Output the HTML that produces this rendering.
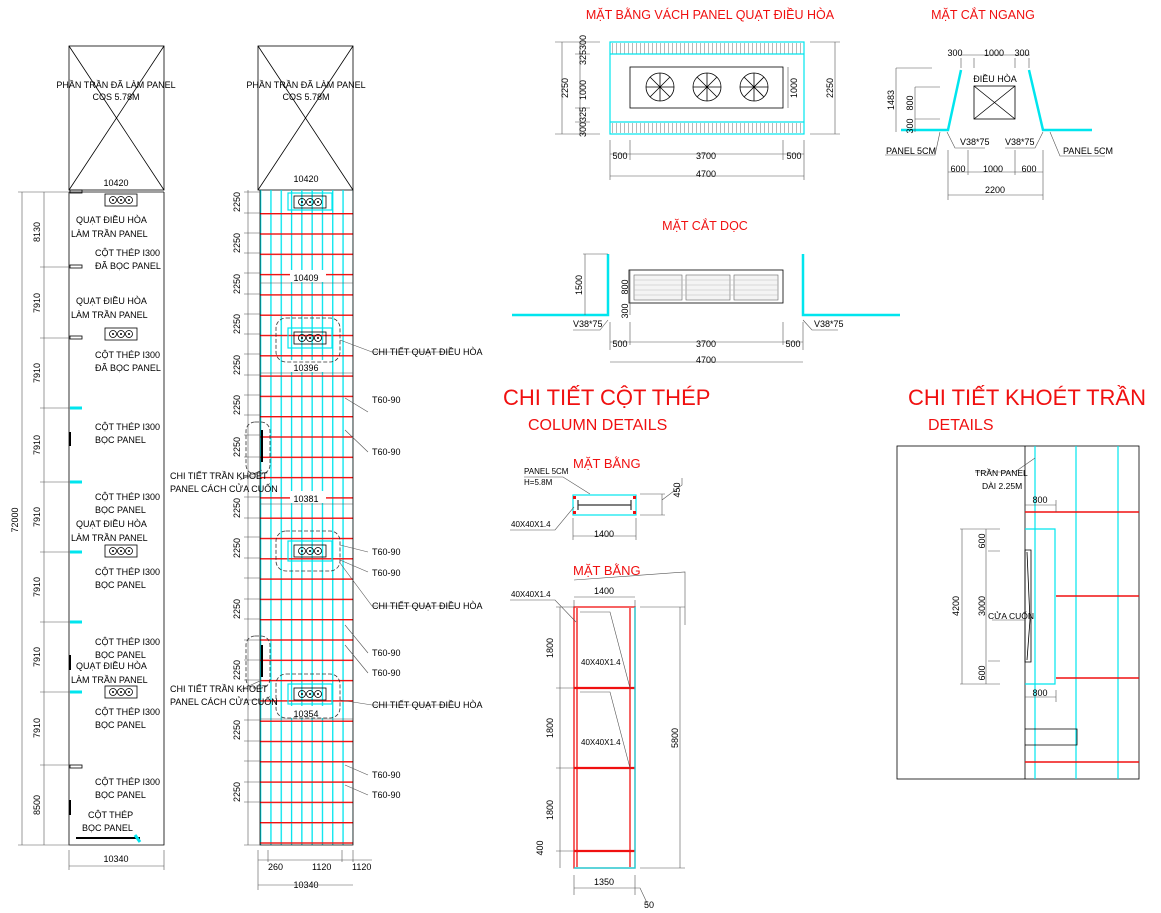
<!DOCTYPE html>
<html><head><meta charset="utf-8"><style>
html,body{margin:0;padding:0;background:#fff;}
svg{display:block;font-family:"Liberation Sans","Noto Sans CJK SC",sans-serif;}
.t{font-size:9px;fill:#000;}
.r{fill:#f01010;}
.k{stroke:#000;stroke-width:.8;fill:none;}
.c{stroke:#00e5ee;stroke-width:1.2;fill:none;}
.rd{stroke:#f01010;stroke-width:1.3;fill:none;}
.g{stroke:#555;stroke-width:.6;fill:none;}
</style></head><body>
<svg width="1161" height="913" viewBox="0 0 1161 913" xmlns="http://www.w3.org/2000/svg">
<defs>
<pattern id="reds" x="260" y="213" width="100" height="20.3" patternUnits="userSpaceOnUse"><rect x="0" y="0" width="100" height="1.4" fill="#f01010"/></pattern>
<pattern id="cy" x="260" y="190" width="10.3" height="100" patternUnits="userSpaceOnUse"><rect x="0" y="0" width="1.3" height="100" fill="#00e5ee"/></pattern>
<pattern id="hatch" x="0" y="0" width="4" height="10" patternUnits="userSpaceOnUse"><rect x="0" y="0" width=".6" height="10" fill="#888"/></pattern>
<g id="fan"><rect x="0" y="0" width="32" height="12" class="k"/><circle cx="8" cy="6" r="3.5" class="k"/><circle cx="16" cy="6" r="3.5" class="k"/><circle cx="24" cy="6" r="3.5" class="k"/><circle cx="8" cy="6" r="1" fill="#000"/><circle cx="16" cy="6" r="1" fill="#000"/><circle cx="24" cy="6" r="1" fill="#000"/></g>
<g id="wheel"><circle r="14" class="k"/><path d="M-14 0H14M0-14V14M-10-10L10 10M-10 10L10-10" class="k"/></g>
</defs>

<!-- ===== COLUMN 1 ===== -->
<rect x="69" y="46" width="95" height="144" class="k"/>
<path d="M69 46L164 190M164 46L69 190" class="k"/>
<text x="116" y="88" class="t" text-anchor="middle">PHẦN TRẦN ĐÃ LÀM PANEL</text>
<text x="116" y="100" class="t" text-anchor="middle">COS 5.78M</text>
<text x="116" y="186" class="t" text-anchor="middle">10420</text>
<path d="M69 192H164M69 192V845H164V192" class="k"/>
<path d="M22 192V845M44 192V845" class="g"/>
<g class="g"><path d="M18 192H70M40 267H70M40 338H70M40 408H70M40 482H70M40 552H70M40 622H70M40 692H70M40 765H70M18 845H70"/></g>
<g class="t">
<text transform="translate(40,232) rotate(-90)" text-anchor="middle">8130</text>
<text transform="translate(40,303) rotate(-90)" text-anchor="middle">7910</text>
<text transform="translate(40,373) rotate(-90)" text-anchor="middle">7910</text>
<text transform="translate(40,445) rotate(-90)" text-anchor="middle">7910</text>
<text transform="translate(40,517) rotate(-90)" text-anchor="middle">7910</text>
<text transform="translate(40,587) rotate(-90)" text-anchor="middle">7910</text>
<text transform="translate(40,657) rotate(-90)" text-anchor="middle">7910</text>
<text transform="translate(40,728) rotate(-90)" text-anchor="middle">7910</text>
<text transform="translate(40,805) rotate(-90)" text-anchor="middle">8500</text>
<text transform="translate(18,520) rotate(-90)" text-anchor="middle">72000</text>
</g>
<use href="#fan" x="105" y="194"/><use href="#fan" x="105" y="328"/><use href="#fan" x="105" y="545"/><use href="#fan" x="105" y="686"/>
<g class="k"><rect x="70" y="190" width="12" height="3"/><rect x="70" y="265" width="12" height="3"/><rect x="70" y="336" width="12" height="3"/><rect x="70" y="765" width="12" height="3"/></g>
<g stroke="#00e5ee" stroke-width="3"><path d="M70 408H82M70 482H82M70 552H82M70 622H82M70 692H82"/></g>
<path d="M70 432V446M70 655V670M70 800V815" stroke="#000" stroke-width="2"/>
<g class="t">
<text x="76" y="223">QUẠT ĐIỀU HÒA</text><text x="71" y="237">LÀM TRẦN PANEL</text>
<text x="95" y="256">CỘT THÉP I300</text><text x="95" y="269">ĐÃ BỌC PANEL</text>
<text x="76" y="304">QUẠT ĐIỀU HÒA</text><text x="71" y="318">LÀM TRẦN PANEL</text>
<text x="95" y="358">CỘT THÉP I300</text><text x="95" y="371">ĐÃ BỌC PANEL</text>
<text x="95" y="430">CỘT THÉP I300</text><text x="95" y="443">BỌC PANEL</text>
<text x="95" y="500">CỘT THÉP I300</text><text x="95" y="513">BỌC PANEL</text>
<text x="76" y="527">QUẠT ĐIỀU HÒA</text><text x="71" y="541">LÀM TRẦN PANEL</text>
<text x="95" y="575">CỘT THÉP I300</text><text x="95" y="588">BỌC PANEL</text>
<text x="95" y="645">CỘT THÉP I300</text><text x="95" y="658">BỌC PANEL</text>
<text x="76" y="669">QUẠT ĐIỀU HÒA</text><text x="71" y="683">LÀM TRẦN PANEL</text>
<text x="95" y="715">CỘT THÉP I300</text><text x="95" y="728">BỌC PANEL</text>
<text x="95" y="785">CỘT THÉP I300</text><text x="95" y="798">BỌC PANEL</text>
<text x="88" y="818">CỘT THÉP</text><text x="82" y="831">BỌC PANEL</text>
<text x="116" y="862" text-anchor="middle">10340</text>
</g>
<path d="M69 850V870M164 850V870M69 866H164" class="g"/>
<path d="M76 838H140" stroke="#000" stroke-width="2"/><path d="M135 835L140 842" stroke="#00e5ee" stroke-width="3"/>

<!-- ===== COLUMN 2 ===== -->
<rect x="258" y="46" width="95" height="144" class="k"/>
<path d="M258 46L353 190M353 46L258 190" class="k"/>
<text x="306" y="88" class="t" text-anchor="middle">PHẦN TRẦN ĐÃ LÀM PANEL</text>
<text x="306" y="100" class="t" text-anchor="middle">COS 5.78M</text>
<text x="306" y="182" class="t" text-anchor="middle">10420</text>
<rect x="260" y="190" width="93" height="655" fill="url(#cy)"/>
<rect x="260" y="213" width="93" height="632" fill="url(#reds)"/>
<path d="M260 190V845H353V190" class="k"/>
<path d="M248 190V845" class="g"/>
<g class="g"><path d="M244 192H260M244 213H260M244 233H260M244 253H260M244 273H260M244 294H260M244 314H260M244 334H260M244 354H260M244 375H260M244 395H260M244 415H260M244 435H260M244 457H260M244 477H260M244 497H260M244 518H260M244 537H260M244 558H260M244 578H260M244 599H260M244 619H260M244 640H260M244 660H260M244 680H260M244 700H260M244 720H260M244 741H260M244 761H260M244 782H260M244 802H260M244 845H260"/></g>
<g class="t">
<text transform="translate(240,202) rotate(-90)" text-anchor="middle">2250</text>
<text transform="translate(240,243) rotate(-90)" text-anchor="middle">2250</text>
<text transform="translate(240,284) rotate(-90)" text-anchor="middle">2250</text>
<text transform="translate(240,324) rotate(-90)" text-anchor="middle">2250</text>
<text transform="translate(240,365) rotate(-90)" text-anchor="middle">2250</text>
<text transform="translate(240,405) rotate(-90)" text-anchor="middle">2250</text>
<text transform="translate(240,447) rotate(-90)" text-anchor="middle">2250</text>
<text transform="translate(240,508) rotate(-90)" text-anchor="middle">2250</text>
<text transform="translate(240,548) rotate(-90)" text-anchor="middle">2250</text>
<text transform="translate(240,609) rotate(-90)" text-anchor="middle">2250</text>
<text transform="translate(240,670) rotate(-90)" text-anchor="middle">2250</text>
<text transform="translate(240,730) rotate(-90)" text-anchor="middle">2250</text>
<text transform="translate(240,792) rotate(-90)" text-anchor="middle">2250</text>
</g>
<g fill="#fff"><rect x="290" y="270" width="36" height="12"/><rect x="290" y="360" width="36" height="12"/><rect x="290" y="491" width="36" height="12"/><rect x="290" y="706" width="36" height="12"/></g>
<g class="t" text-anchor="middle"><text x="306" y="281">10409</text><text x="306" y="371">10396</text><text x="306" y="502">10381</text><text x="306" y="717">10354</text></g>
<path d="M260 283H353M260 373H353M260 504H353M260 719H353" class="g"/>
<g><rect x="288" y="193" width="44" height="17" fill="#fff" class="c"/><use href="#fan" x="294" y="196"/>
<rect x="288" y="328" width="44" height="20" fill="#fff" class="c"/><use href="#fan" x="294" y="332"/>
<rect x="288" y="541" width="44" height="20" fill="#fff" class="c"/><use href="#fan" x="294" y="545"/>
<rect x="288" y="684" width="44" height="20" fill="#fff" class="c"/><use href="#fan" x="294" y="688"/></g>
<g stroke="#333" stroke-width=".8" stroke-dasharray="4,2" fill="none">
<rect x="276" y="318" width="64" height="44" rx="10"/><rect x="276" y="531" width="64" height="40" rx="10"/><rect x="276" y="674" width="64" height="44" rx="10"/>
<rect x="246" y="422" width="24" height="52" rx="9"/><rect x="246" y="636" width="24" height="52" rx="9"/></g>
<path d="M262 430V462M262 645V677" stroke="#000" stroke-width="2"/>
<g class="g"><path d="M340 340L372 352H450M340 545L368 552M340 560L368 572M340 563L372 606H455M340 700L372 705H455M345 398L368 412M345 430L368 452M345 625L368 653M345 645L368 673M345 765L368 775M345 785L368 795M262 470L240 480M262 680L240 690"/></g>
<g class="t">
<text x="372" y="355">CHI TIẾT QUẠT ĐIỀU HÒA</text>
<text x="372" y="403">T60-90</text><text x="372" y="455">T60-90</text>
<text x="372" y="555">T60-90</text><text x="372" y="576">T60-90</text>
<text x="372" y="609">CHI TIẾT QUẠT ĐIỀU HÒA</text>
<text x="372" y="656">T60-90</text><text x="372" y="676">T60-90</text>
<text x="372" y="708">CHI TIẾT QUẠT ĐIỀU HÒA</text>
<text x="372" y="778">T60-90</text><text x="372" y="798">T60-90</text>
<text x="170" y="479">CHI TIẾT TRẦN KHOÉT</text><text x="170" y="492">PANEL CÁCH CỬA CUỐN</text>
<text x="170" y="692">CHI TIẾT TRẦN KHOÉT</text><text x="170" y="705">PANEL CÁCH CỬA CUỐN</text>
<text x="268" y="870">260</text><text x="312" y="870">1120</text><text x="352" y="870">1120</text>
<text x="306" y="888" text-anchor="middle">10340</text>
</g>
<path d="M258 860H372M258 850V890M268 850V862M342 850V862M353 850V862M258 885H353" class="g"/>

<!-- ===== MẶT BẰNG VÁCH PANEL ===== -->
<text x="710" y="19" class="r" font-size="12.5" text-anchor="middle">MẶT BẰNG VÁCH PANEL QUẠT ĐIỀU HÒA</text>
<rect x="610" y="42" width="194" height="92" class="c"/>
<rect x="611" y="43" width="192" height="11" fill="url(#hatch)"/>
<rect x="611" y="123" width="192" height="10" fill="url(#hatch)"/>
<path d="M610 54H804M610 122H804" class="c"/>
<rect x="630" y="67" width="153" height="41" class="k"/>
<use href="#wheel" x="660" y="87"/><use href="#wheel" x="707" y="87"/><use href="#wheel" x="754" y="87"/>
<g class="g"><path d="M555 42H600M575 54H590M575 108H590M575 122H590M555 134H600M562 42V134M580 42V134M788 67V108M810 42H840M810 134H840M835 42V134M610 140V180M630 140V160M783 140V160M804 140V180M610 154H804M610 176H804"/></g>
<g class="t">
<text transform="translate(568,88) rotate(-90)" text-anchor="middle">2250</text>
<text transform="translate(586,50) rotate(-90)" text-anchor="middle">325300</text>
<text transform="translate(586,90) rotate(-90)" text-anchor="middle">1000</text>
<text transform="translate(586,122) rotate(-90)" text-anchor="middle">300325</text>
<text transform="translate(797,88) rotate(-90)" text-anchor="middle">1000</text>
<text transform="translate(833,88) rotate(-90)" text-anchor="middle">2250</text>
<text x="620" y="159" text-anchor="middle">500</text><text x="706" y="159" text-anchor="middle">3700</text><text x="794" y="159" text-anchor="middle">500</text>
<text x="706" y="177" text-anchor="middle">4700</text>
</g>

<!-- ===== MẶT CẮT NGANG ===== -->
<text x="983" y="19" class="r" font-size="12.5" text-anchor="middle">MẶT CẮT NGANG</text>
<path d="M901 130H948L961 70M1029 70L1043 130H1092" stroke="#00e5ee" stroke-width="2.5" fill="none"/>
<rect x="974" y="86" width="41" height="33" class="k"/><path d="M974 86L1015 119M1015 86L974 119" class="k"/>
<g class="g"><path d="M896 68H932M896 68V132M915 87H940M915 87V132M915 119H940M960 55H1030M961 58V68M974 58V68M1015 58V68M1029 58V68M948 150V200M968 150V175M1015 150V175M1043 150V200M948 172H1043M948 195H1043M940 132L935 155H885M947 132L955 148H985M1043 132L1035 148H1005M1050 132L1060 156H1105"/></g>
<g class="t">
<text x="955" y="56" text-anchor="middle">300</text><text x="994" y="56" text-anchor="middle">1000</text><text x="1022" y="56" text-anchor="middle">300</text>
<text x="995" y="82" text-anchor="middle">ĐIỀU HÒA</text>
<text transform="translate(894,100) rotate(-90)" text-anchor="middle">1483</text>
<text transform="translate(913,103) rotate(-90)" text-anchor="middle">800</text>
<text transform="translate(913,126) rotate(-90)" text-anchor="middle">300</text>
<text x="960" y="145">V38*75</text><text x="1005" y="145">V38*75</text>
<text x="886" y="154">PANEL 5CM</text><text x="1063" y="154">PANEL 5CM</text>
<text x="958" y="172" text-anchor="middle">600</text><text x="993" y="172" text-anchor="middle">1000</text><text x="1029" y="172" text-anchor="middle">600</text>
<text x="995" y="193" text-anchor="middle">2200</text>
</g>

<!-- ===== MẶT CẮT DỌC ===== -->
<text x="705" y="230" class="r" font-size="12.5" text-anchor="middle">MẶT CẮT DỌC</text>
<path d="M512 315H608V254M803 254V315H900" stroke="#00e5ee" stroke-width="2.5" fill="none"/>
<rect x="629" y="270" width="154" height="33" class="k"/>
<g fill="#f4f4f4" stroke="#666" stroke-width=".6"><rect x="634" y="275" width="48" height="25"/><rect x="686" y="275" width="44" height="25"/><rect x="734" y="275" width="44" height="25"/></g>
<g stroke="#bbb" stroke-width=".5"><path d="M634 280H778M634 285H778M634 290H778M634 295H778"/></g>
<g class="g"><path d="M583 254H608M585 254V315M630 270V315M608 320L600 330H573M803 320L812 330H838M610 322V350M630 322V345M783 322V345M803 322V350M610 342H803M610 362H803"/></g>
<g class="t">
<text transform="translate(582,285) rotate(-90)" text-anchor="middle">1500</text>
<text transform="translate(628,287) rotate(-90)" text-anchor="middle">800</text>
<text transform="translate(628,311) rotate(-90)" text-anchor="middle">300</text>
<text x="573" y="327">V38*75</text><text x="814" y="327">V38*75</text>
<text x="620" y="347" text-anchor="middle">500</text><text x="706" y="347" text-anchor="middle">3700</text><text x="793" y="347" text-anchor="middle">500</text>
<text x="706" y="363" text-anchor="middle">4700</text>
</g>

<!-- ===== CHI TIẾT CỘT THÉP ===== -->
<text x="503" y="405" class="r" font-size="22">CHI TIẾT CỘT THÉP</text>
<text x="528" y="430" class="r" font-size="16">COLUMN DETAILS</text>
<text x="573" y="468" class="r" font-size="13">MẶT BẰNG</text>
<rect x="573" y="495" width="63" height="20" class="c"/>
<path d="M578 500V510M631 500V510M578 505H631" stroke="#333" stroke-width="1.2"/>
<g fill="#f01010"><rect x="573" y="496" width="3" height="3"/><rect x="633" y="496" width="3" height="3"/><rect x="573" y="511" width="3" height="3"/><rect x="633" y="511" width="3" height="3"/></g>
<g class="g"><path d="M524 477H563L590 494M574 507L555 530H510M640 494H665M640 515H665M662 494V515M662 500L682 485V478M573 518V540M636 518V540M573 536H636"/></g>
<g class="t"><text x="524" y="474" font-size="8">PANEL 5CM</text><text x="524" y="485" font-size="8">H=5.8M</text><text x="511" y="527" font-size="8">40X40X1.4</text>
<text transform="translate(680,490) rotate(-90)" text-anchor="middle">450</text><text x="604" y="537" text-anchor="middle">1400</text></g>

<text x="573" y="575" class="r" font-size="13">MẶT BẰNG</text>
<rect x="574" y="607" width="61" height="261" class="rd" stroke-width="2.2"/>
<path d="M577 608V867M630 608V867" class="rd"/>
<path d="M574 688H635M574 768H635M574 851H635" stroke="#f01010" stroke-width="2.2"/>
<path d="M635 607V868H574" stroke="#00e5ee" stroke-width="1.2" fill="none"/>
<g class="g"><path d="M574 580L685 572V625M574 600V607M635 600V607M574 597H635M510 600H555L576 622M640 607H685M640 868H685M680 607V868M560 607V868M556 607H574M556 688H574M556 768H574M556 851H574M574 875V895M635 875V895M574 888H640L648 905M580 612H610L630 688M580 692H610L630 768"/></g>
<g class="t"><text x="511" y="597" font-size="8">40X40X1.4</text><text x="604" y="594" text-anchor="middle">1400</text>
<text x="581" y="665" font-size="8">40X40X1.4</text><text x="581" y="745" font-size="8">40X40X1.4</text>
<text transform="translate(553,648) rotate(-90)" text-anchor="middle">1800</text>
<text transform="translate(553,728) rotate(-90)" text-anchor="middle">1800</text>
<text transform="translate(553,810) rotate(-90)" text-anchor="middle">1800</text>
<text transform="translate(543,848) rotate(-90)" text-anchor="middle">400</text>
<text transform="translate(678,738) rotate(-90)" text-anchor="middle">5800</text>
<text x="604" y="885" text-anchor="middle">1350</text><text x="644" y="908">50</text></g>

<!-- ===== CHI TIẾT KHOÉT TRẦN ===== -->
<text x="908" y="405" class="r" font-size="22">CHI TIẾT KHOÉT TRẦN</text>
<text x="928" y="430" class="r" font-size="16">DETAILS</text>
<rect x="897" y="446" width="242" height="333" class="k"/>
<path d="M1025 446V779" class="k"/>
<path d="M1035 446V779M1076 446V779M1118 446V779" class="c"/>
<path d="M1025 512H1139M1056 596H1139M1056 678H1139M1025 762H1139" stroke="#f01010" stroke-width="1.6"/>
<path d="M1025 529H1055V684H1025" class="c"/>
<path d="M1025 550V662H1031V550Z" class="k"/><path d="M1027 552L1030 620L1027 660" class="k"/>
<path d="M1025 729H1077V745H1025" class="k"/>
<g class="g"><path d="M975 472H1015L1035 458M1025 505H1056M1056 500V512M960 529H1000M988 551H1000M988 661H1000M960 684H1000M962 529V684M986 529V684M1025 697H1056M1056 690V702M992 620H1025"/></g>
<g class="t"><text x="975" y="476" font-size="8.5">TRẦN PANEL</text><text x="982" y="489" font-size="8.5">DÀI 2.25M</text>
<text x="1040" y="503" text-anchor="middle">800</text><text x="1040" y="696" text-anchor="middle">800</text>
<text transform="translate(959,606) rotate(-90)" text-anchor="middle">4200</text>
<text transform="translate(985,541) rotate(-90)" text-anchor="middle">600</text>
<text transform="translate(985,606) rotate(-90)" text-anchor="middle">3000</text>
<text transform="translate(985,673) rotate(-90)" text-anchor="middle">600</text>
<text x="988" y="619" font-size="8.5">CỬA CUỐN</text></g>
</svg>
</body></html>
